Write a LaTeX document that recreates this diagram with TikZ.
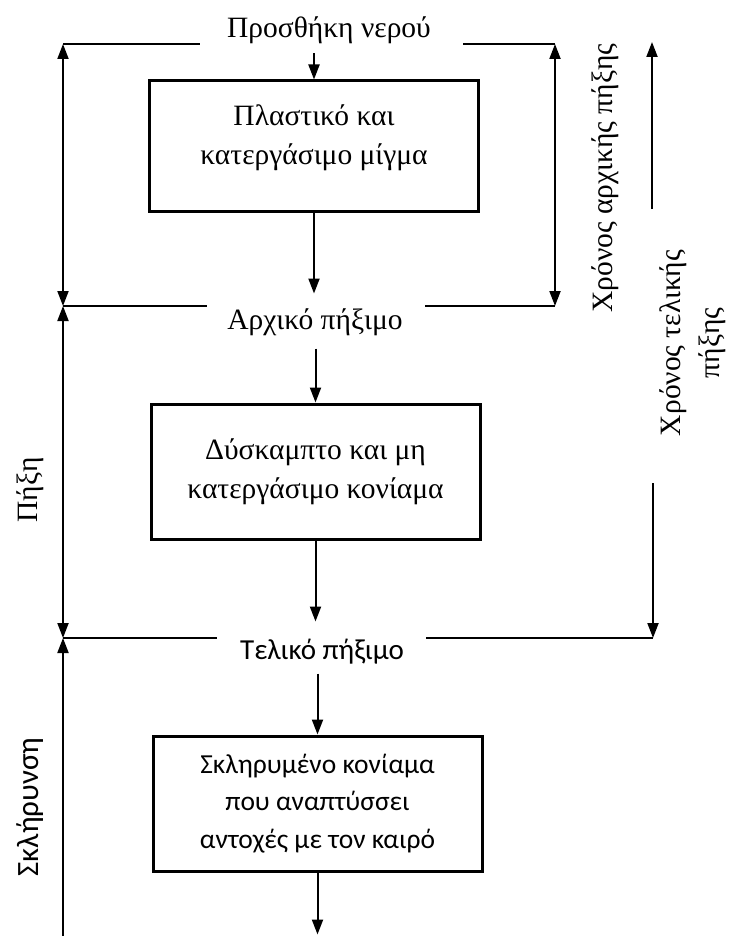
\documentclass[tikz,border=0pt]{standalone}
\usepackage{fontspec}
\setmainfont{Liberation Serif}
\newfontfamily\calfont{Carlito}
\usetikzlibrary{arrows.meta,positioning}

\tikzset{
  stage/.style = {draw, line width=3pt, minimum width=329pt, minimum height=135pt, align=center, inner sep=0pt},
  phase/.style = {inner sep=0pt, align=center},
  sansbig/.style = {font=\calfont\fontsize{31}{37.5}\selectfont},
  sansbox/.style = {font=\calfont\fontsize{27.5}{37.5}\selectfont},
  rail/.style = {line width=2pt},
  flow/.style = {line width=2pt, -{Triangle[length=15pt,width=11pt]}},
  span/.style = {line width=2pt, {Triangle[length=15pt,width=11pt]}-{Triangle[length=15pt,width=11pt]}},
}

\begin{document}
\begin{tikzpicture}[x=1pt, y=1pt, font=\fontsize{29.5}{39}\selectfont]
\useasboundingbox (0,0) rectangle (728,-936);

% stages
\node[stage, minimum height=130pt,
  label={[align=center, yshift=8pt]center:{Πλαστικό και\\κατεργάσιμο μίγμα}}] (mix) at (314,-146) {};
\node[stage] (slab) at (315.5,-471.5) {Δύσκαμπτο και μη\\κατεργάσιμο κονίαμα};
\node[stage, sansbox] (hard) at (317.5,-803.5) {Σκληρυμένο κονίαμα\\που αναπτύσσει\\αντοχές με τον καιρό};

% events
\node[phase] (water) at (329,-30) {Προσθήκη νερού};
\node[phase] (init) at (315,-322) {Αρχικό πήξιμο};
\node[phase, font=\calfont\fontsize{29}{35}\selectfont] (final) at (322,-652) {Τελικό πήξιμο};

% periods
\node[phase, rotate=90] (tinit) at (605,-178) {Χρόνος αρχικής πήξης};
\node[phase, rotate=90] (tfinal) at (693,-343) {Χρόνος τελικής\\πήξης};
\node[phase, rotate=90] (setting) at (30,-490) {Πήξη};
\node[phase, rotate=90, sansbig] (hardening) at (30,-807) {Σκλήρυνση};

% rail corners
\coordinate (tl) at (63,-44);
\coordinate (tr) at (555,-44);
\coordinate (ml) at (63,-306);
\coordinate (mr) at (555,-306);
\coordinate (bl) at (63,-638);
\coordinate (br) at (653,-638);
\coordinate (end) at (63,-936);
\coordinate (ft) at (652,-42);
\coordinate (fb) at (652,-209);
\coordinate (gt) at (653,-483);

\draw[rail] (tl) -- ++(137,0);
\draw[rail] (tr) -- ++(-92,0);
\draw[rail] (ml) -- ++(144,0);
\draw[rail] (mr) -- ++(-130,0);
\draw[rail] (bl) -- ++(154,0);
\draw[rail] (br) -- ++(-227,0);

\draw[span] (tl) -- (ml);
\draw[span] (ml) -- (bl);
\draw[flow] (end) -- (bl);
\draw[span] (tr) -- (mr);
\draw[flow] (fb) -- (ft);
\draw[flow] (gt) -- (br);

% main flow
\draw[flow] (mix.north) ++(0,26) -- (mix.north);
\draw[flow] (mix.south) -- ++(0,-81);
\draw[flow] (slab.north) ++(0,54) -- (slab.north);
\draw[flow] (slab.south) -- ++(0,-81);
\draw[flow] (hard.north) ++(0,61) -- (hard.north);
\draw[flow] (hard.south) -- ++(0,-62);
\end{tikzpicture}
\end{document}
